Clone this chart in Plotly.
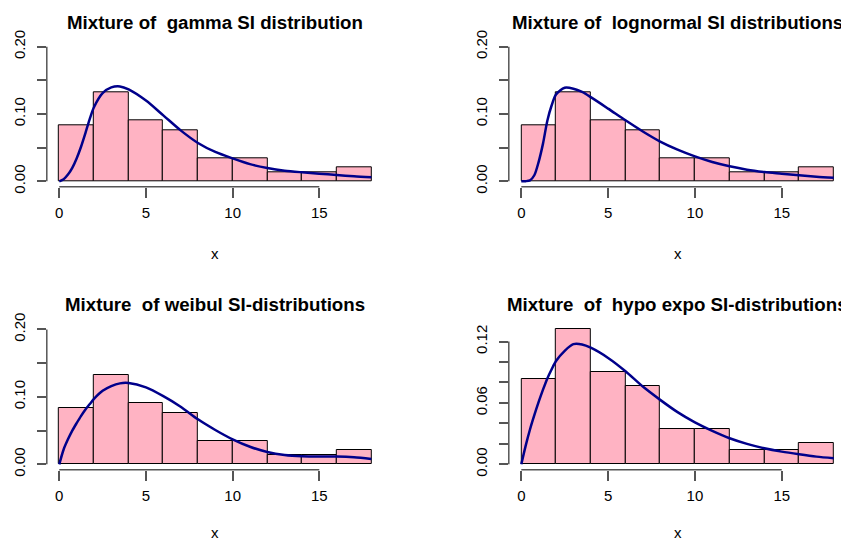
import plotly.graph_objects as go

# ---------------- data ----------------
bin_centers = [1, 3, 5, 7, 9, 11, 13, 15, 17]
bin_width = 2
hist_density = [0.0833, 0.1319, 0.0903, 0.0764, 0.0347, 0.0347, 0.0139, 0.0139, 0.0208]

curve_x = [0, 0.25, 0.5, 0.75, 1, 1.25, 1.5, 1.75, 2, 2.5, 3, 3.5, 4, 5, 6, 7, 8, 9,
           10, 11, 12, 13, 14, 15, 16, 17, 18]

gamma_y = [0.0, 0.003, 0.010, 0.020, 0.034, 0.051, 0.071, 0.092, 0.110, 0.131, 0.1395,
           0.1410, 0.1366, 0.120, 0.098, 0.0757, 0.057, 0.0436, 0.0340, 0.0255, 0.0198,
           0.0158, 0.0134, 0.0114, 0.0094, 0.0074, 0.0060]
lognormal_y = [0.0, 0.0002, 0.0015, 0.009, 0.029, 0.056, 0.090, 0.113, 0.129, 0.139, 0.1376,
               0.1327, 0.125, 0.108, 0.0906, 0.074, 0.059, 0.047, 0.037, 0.0287, 0.0223,
               0.0173, 0.0139, 0.0114, 0.0089, 0.0069, 0.0054]
weibull_y = [0.0, 0.022, 0.037, 0.050, 0.061, 0.0715, 0.081, 0.089, 0.097, 0.109, 0.116,
             0.120, 0.1205, 0.114, 0.101, 0.0854, 0.0667, 0.0509, 0.037, 0.026, 0.0183,
             0.0138, 0.0119, 0.0114, 0.0114, 0.0104, 0.0079]
hypoexpo_y = [0.0, 0.018, 0.034, 0.048, 0.061, 0.073, 0.084, 0.093, 0.101, 0.111, 0.1175,
              0.1172, 0.114, 0.104, 0.091, 0.076, 0.063, 0.051, 0.041, 0.0327, 0.0255,
              0.020, 0.0157, 0.0124, 0.0098, 0.0075, 0.0059]

titles = ["Mixture of  gamma SI distribution",
          "Mixture of  lognormal SI distributions",
          "Mixture  of weibul SI-distributions",
          "Mixture  of  hypo expo SI-distributions"]
curves = [gamma_y, lognormal_y, weibull_y, hypoexpo_y]

x_tickvals = [0, 5, 10, 15]
x_ticktext = ["0", "5", "10", "15"]
y_tickvals_a = [0, 0.05, 0.10, 0.15, 0.20]
y_ticktext_a = ["0.00", "", "0.10", "", "0.20"]
y_tickvals_b = [0, 0.02, 0.04, 0.06, 0.08, 0.10, 0.12]
y_ticktext_b = ["0.00", "", "", "0.06", "", "", "0.12"]

# ---------------- layout constants (pixels) ----------------
# the page body has an 8px margin, so the figure is drawn 8px smaller and
# every reference pixel position is shifted by that margin
OFF = 8
W, H = 849 - OFF, 542 - OFF
FONT = "Liberation Sans, Arial, Helvetica, sans-serif"
BAR_COLOR = "#FFB3C3"
CURVE_COLOR = "#00008B"
AXIS_COLOR = "#555555"

# plot regions in page pixels: (left, right, top, bottom)
regions = [
    (46.8, 383.8, 41.3, 186.7),
    (508.8, 846.3, 41.3, 186.7),
    (46.8, 383.8, 324.0, 469.7),
    (508.8, 846.3, 324.0, 469.7),
]
y_ranges = [[-0.008, 0.208], [-0.008, 0.208], [-0.008, 0.208], [-0.00528, 0.1372]]
y_ticks = [(y_tickvals_a, y_ticktext_a)] * 3 + [(y_tickvals_b, y_ticktext_b)]
y_axis_top = [0.20, 0.20, 0.20, 0.12]


def px_x(p):
    return (p - OFF) / W


def px_y(p):
    return 1 - (p - OFF) / H


fig = go.Figure()
layout = dict(template="none", width=W, height=H, margin=dict(l=0, r=0, t=0, b=0, pad=0),
              autosize=False,
              paper_bgcolor="white", plot_bgcolor="white", showlegend=False,
              bargap=0, font=dict(family=FONT, size=15, color="black"))
annotations = []
shapes = []

for i in range(4):
    sx = "" if i == 0 else str(i + 1)
    xa, ya = "x" + sx, "y" + sx
    l, r, t, b = regions[i]
    fig.add_trace(go.Bar(x=bin_centers, y=hist_density, width=bin_width,
                         marker=dict(color=BAR_COLOR, line=dict(color="black", width=1)),
                         xaxis=xa, yaxis=ya, hoverinfo="skip"))
    fig.add_trace(go.Scatter(x=curve_x, y=curves[i], mode="lines",
                             line=dict(color=CURVE_COLOR, width=2.5, shape="spline", smoothing=0.8),
                             xaxis=xa, yaxis=ya, hoverinfo="skip"))
    layout["xaxis" + sx] = dict(domain=[px_x(l), px_x(r)], range=[-0.72, 18.72], anchor=ya,
                                automargin=False,
                                showgrid=False, zeroline=False, showline=False,
                                ticks="outside", ticklen=10, tickwidth=1.5, tickcolor=AXIS_COLOR,
                                tickvals=x_tickvals, ticktext=x_ticktext,
                                tickfont=dict(family=FONT, size=15, color="black"),
                                ticklabelstandoff=2, fixedrange=True)
    tv, tt = y_ticks[i]
    layout["yaxis" + sx] = dict(domain=[px_y(b), px_y(t)], range=y_ranges[i], anchor=xa,
                                automargin=False,
                                showgrid=False, zeroline=False, showline=False,
                                ticks="outside", ticklen=9, tickwidth=1.5, tickcolor=AXIS_COLOR,
                                tickvals=tv, ticktext=tt, tickangle=-90,
                                tickfont=dict(family=FONT, size=15, color="black"),
                                ticklabelstandoff=6, fixedrange=True)
    # R-style axis lines spanning first to last tick
    shapes.append(dict(type="line", xref=xa, yref=ya + " domain", x0=0, x1=15, y0=0, y1=0,
                       line=dict(color=AXIS_COLOR, width=1.5)))
    shapes.append(dict(type="line", xref=xa + " domain", yref=ya, x0=0, x1=0, y0=0, y1=y_axis_top[i],
                       line=dict(color=AXIS_COLOR, width=1.5)))
    cx = px_x((l + r) / 2)
    title_y = 22.3 if i < 2 else 304.3
    annotations.append(dict(text=titles[i], xref="paper", yref="paper", x=cx, y=px_y(title_y + 0.5),
                            xanchor="center", yanchor="middle", showarrow=False,
                            font=dict(family=FONT, size=18.7, color="black", weight="bold")))
    if i < 2:
        annotations.append(dict(text="x", xref="paper", yref="paper", x=cx, y=px_y(253.3),
                                xanchor="center", yanchor="middle", showarrow=False,
                                font=dict(family=FONT, size=15, color="black")))
    else:
        annotations.append(dict(text="x", xref="paper", yref="paper", x=cx, y=0,
                                xanchor="center", yanchor="bottom", showarrow=False, borderpad=0,
                                font=dict(family=FONT, size=15, color="black")))

layout["annotations"] = annotations
layout["shapes"] = shapes
fig.update_layout(**layout)
fig.write_html("out.html")
